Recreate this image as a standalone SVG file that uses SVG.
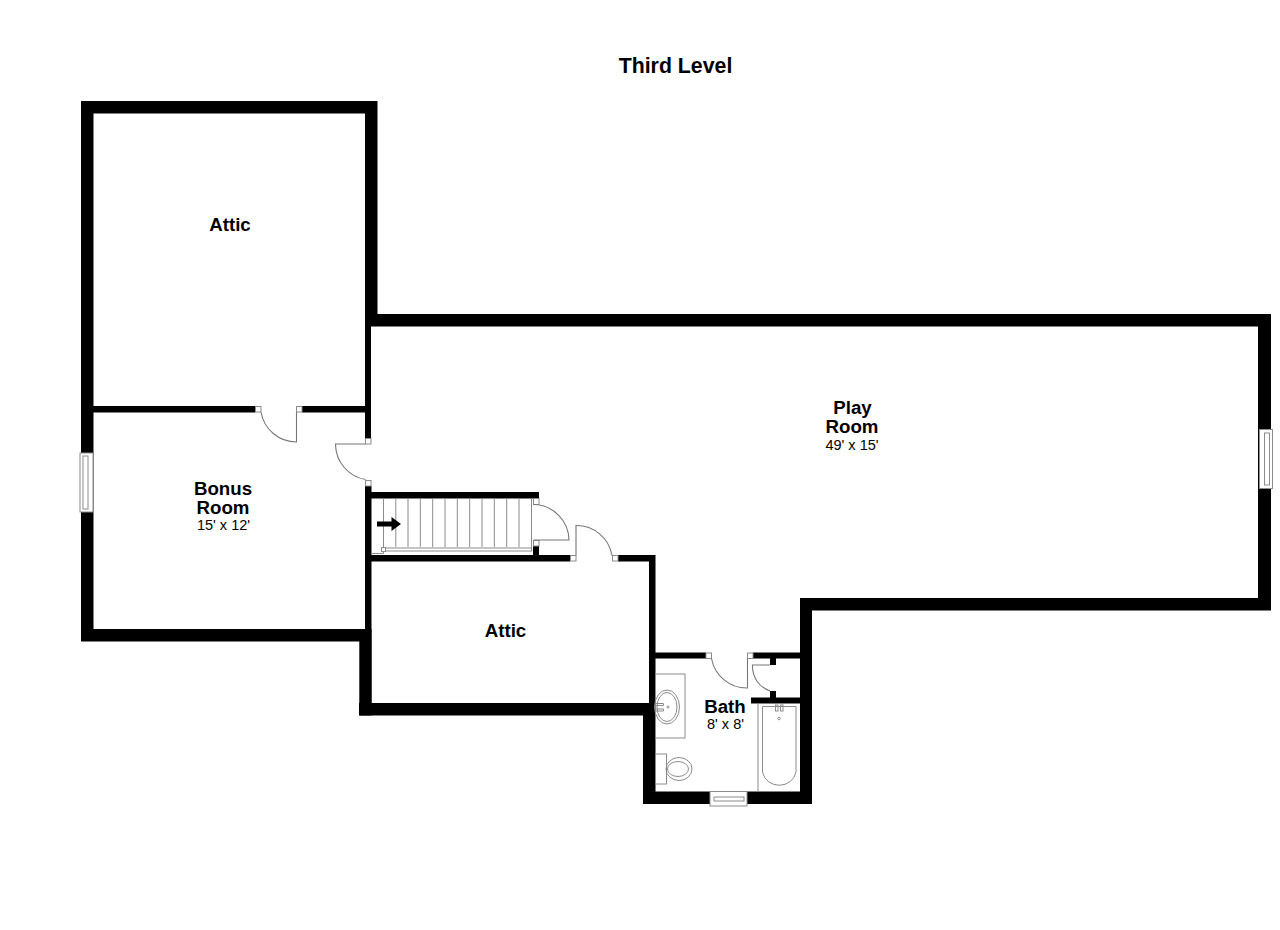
<svg xmlns="http://www.w3.org/2000/svg" width="1280" height="930" viewBox="0 0 1280 930">
<style>
text{font-family:"Liberation Sans",Arial,sans-serif;fill:#000;text-anchor:middle}
.t{font-size:18.7px;font-weight:bold}
.d{font-size:14.5px}
.w{fill:#000;stroke:none}
.l{fill:none;stroke:#8c8c8c;stroke-width:1}
.s{fill:#fff;stroke:#8c8c8c;stroke-width:1}
.a{fill:none;stroke:#777;stroke-width:1.1}
</style>
<rect width="1280" height="930" fill="#fff"/>
<text x="675.500" y="73.300" style="font-size:21.300px;font-weight:bold">Third Level</text>
<g id="walls" class="w">
<rect x="81" y="101" width="296" height="12.500"/>
<rect x="81" y="101" width="12.500" height="540"/>
<rect x="365" y="101" width="12.500" height="225"/>
<rect x="365" y="314" width="906" height="12.500"/>
<rect x="1258" y="314" width="13" height="296"/>
<rect x="800" y="598" width="471" height="12.500"/>
<rect x="800" y="598" width="12" height="206"/>
<rect x="643" y="791.500" width="169" height="12.500"/>
<rect x="643" y="703" width="12.500" height="101"/>
<rect x="359" y="703" width="296.500" height="12.500"/>
<rect x="359.300" y="641" width="12.200" height="74.500"/>
<rect x="81" y="629" width="290.500" height="12.500"/>
<rect x="365" y="320" width="6" height="118"/>
<rect x="365" y="486" width="6.500" height="220"/>
<rect x="93" y="406" width="162" height="6.500"/>
<rect x="302" y="406" width="64" height="6.500"/>
<rect x="371" y="492" width="168" height="6.500"/>
<rect x="371" y="555" width="199" height="6.500"/>
<rect x="618" y="555" width="37" height="6.500"/>
<rect x="649" y="555" width="6.500" height="150"/>
<rect x="533" y="546" width="6" height="10"/>
<rect x="655" y="652.500" width="51" height="6"/>
<rect x="753" y="652.500" width="48" height="6"/>
<rect x="770" y="658" width="6" height="7"/>
<rect x="770" y="691" width="6" height="7"/>
<rect x="751" y="697.500" width="50" height="6"/>
</g>
<g id="doors">
<rect class="s" x="365.500" y="438.500" width="5.500" height="5.500"/>
<rect class="s" x="365.500" y="480.500" width="5.500" height="5.500"/>
<path class="a" d="M365.500 444H335.500A36 36 0 0 0 365.500 479.500"/>
<rect class="s" x="255.500" y="406.500" width="5.500" height="5.500"/>
<rect class="s" x="296.500" y="406.500" width="5.500" height="5.500"/>
<path class="a" d="M261 412A36 36 0 0 0 296.500 442V412"/>
<rect class="s" x="533.500" y="498.500" width="5.500" height="6"/>
<rect class="s" x="533.500" y="540.500" width="5.500" height="5.500"/>
<path class="a" d="M533.500 504.500A36 36 0 0 1 569 540H533.500"/>
<rect class="s" x="570.500" y="555.500" width="5.500" height="5.500"/>
<rect class="s" x="612.500" y="555.500" width="5.500" height="5.500"/>
<path class="a" d="M576 555.500V525.500A36 36 0 0 1 612 555.500"/>
<rect class="s" x="706" y="653" width="5.500" height="5.500"/>
<rect class="s" x="747.500" y="653" width="5.500" height="5.500"/>
<path class="a" d="M711.500 658.500A36 36 0 0 0 747.500 688V658.500"/>
<path class="a" d="M770 665H752.500A26 26 0 0 0 770 691"/>
</g>
<g id="stairs">
<path class="l" d="M383.500 498.500V547M395.800 498.500V547M408 498.500V547M420.300 498.500V547M432.700 498.500V547M445 498.500V547M457.300 498.500V547M469.700 498.500V547M482 498.500V547M494.300 498.500V547M506.700 498.500V547M519 498.500V547M531.500 498.500V548"/>
<rect class="l" x="383.500" y="548" width="148" height="3"/>
<rect class="s" x="381.500" y="547.500" width="4" height="4"/>
<path class="l" d="M371 553.500H383.500V551"/>
<path class="w" d="M377 521.500H391.500V517L401 524L391.500 531V526.500H377Z"/>
</g>
<g id="windows">
<rect class="s" x="80" y="453" width="13" height="59"/>
<rect class="l" x="83" y="456" width="5" height="53"/>
<rect class="s" x="1259.500" y="429.500" width="13" height="59"/>
<rect class="l" x="1264.500" y="433" width="5" height="52"/>
<rect class="s" x="710" y="791.500" width="37" height="14.500"/>
<rect class="l" x="714" y="797" width="30" height="4"/>
</g>
<g id="fixtures">
<rect class="l" x="655.500" y="674" width="29.500" height="64"/>
<ellipse class="l" cx="667" cy="707" rx="12.500" ry="17"/>
<ellipse class="l" cx="667" cy="707" rx="10" ry="14.500"/>
<circle class="l" cx="668" cy="707" r="1"/>
<path class="l" d="M656 703.500H663.500V705.500H656M656 709H663.500V711H656"/>
<rect class="l" x="655.500" y="754" width="11" height="30"/>
<ellipse class="l" cx="679" cy="769" rx="13" ry="11.500"/>
<ellipse class="l" cx="678" cy="769" rx="10.500" ry="7.500"/>
<path class="l" d="M758 703.500V791.500"/>
<path class="l" d="M762.500 706.500H796V772A17 16 0 0 1 762.500 772Z"/>
<rect class="l" x="775.500" y="705" width="2.500" height="6"/>
<rect class="l" x="780.500" y="705" width="2.500" height="6"/>
<circle class="l" cx="779" cy="718.500" r="1.300"/>
</g>
<g id="labels">
<text class="t" x="230" y="230.500">Attic</text>
<text class="t" x="852.500" y="414">Play</text>
<text class="t" x="852" y="433.300">Room</text>
<text class="d" x="852" y="449.700">49' x 15'</text>
<text class="t" x="223" y="494.500">Bonus</text>
<text class="t" x="223" y="513.500">Room</text>
<text class="d" x="223.500" y="530">15' x 12'</text>
<text class="t" x="505.500" y="636.500">Attic</text>
<text class="t" x="725" y="713">Bath</text>
<text class="d" x="725.500" y="729">8' x 8'</text>
</g>
</svg>
